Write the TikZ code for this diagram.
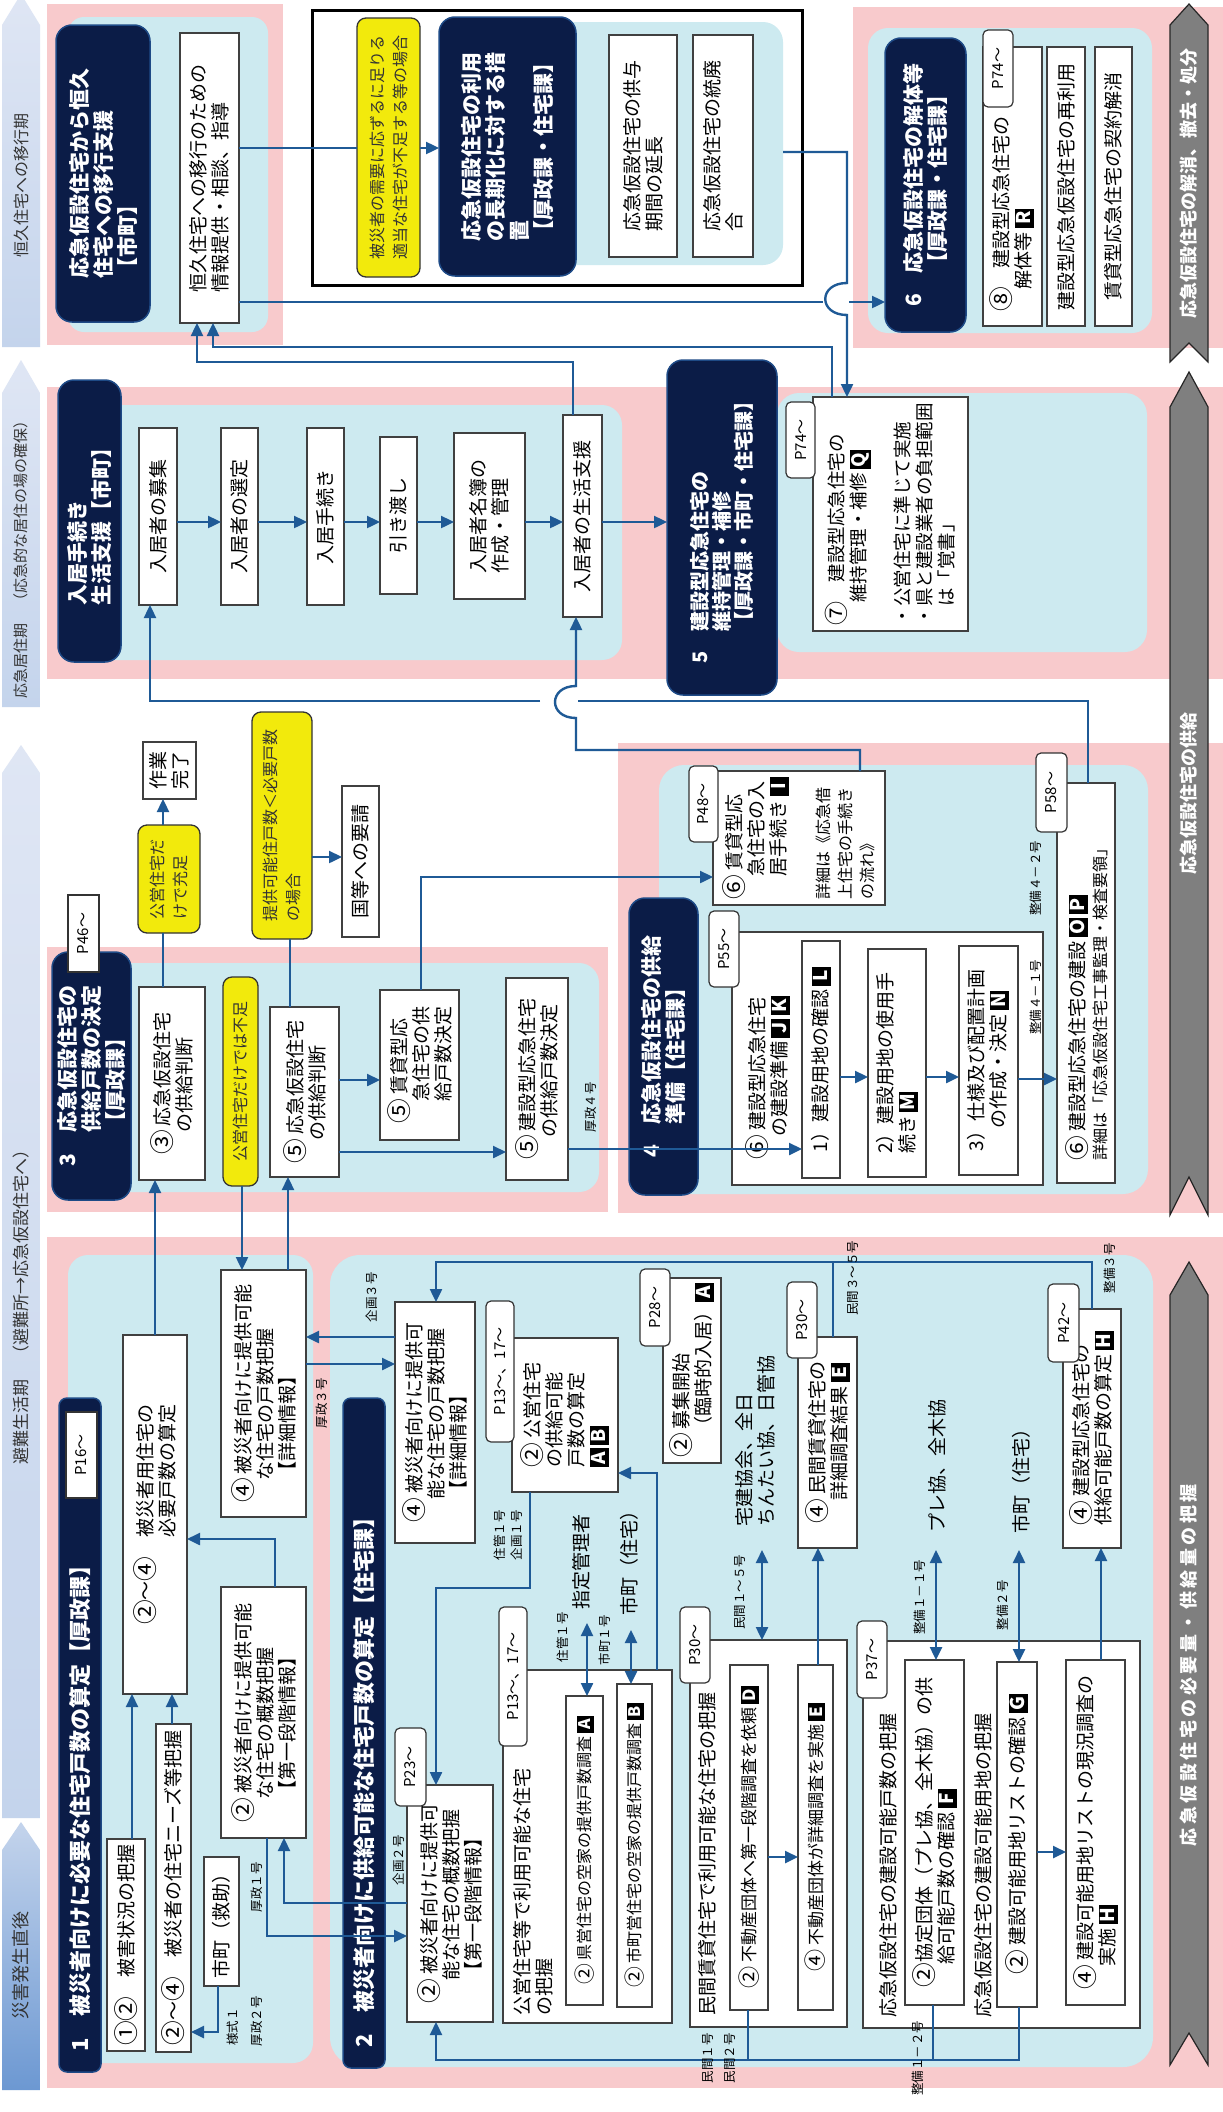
\documentclass[tikz,border=0pt]{standalone}
\usepackage{fontspec}
\setmainfont{Noto Sans CJK JP}
\usetikzlibrary{arrows.meta,fit}
\definecolor{pinkc}{HTML}{F8CACC}
\definecolor{lbc}{HTML}{CDEAF0}
\definecolor{navyc}{HTML}{0B1C47}
\definecolor{navyb}{HTML}{1E4A86}
\definecolor{cblue}{HTML}{1F5A96}
\definecolor{yelc}{HTML}{F2EA0C}
\definecolor{grayc}{HTML}{7F7F7F}
\definecolor{phA}{HTML}{C4D4EC}
\definecolor{phB}{HTML}{DFE6F4}
\definecolor{phC}{HTML}{6C98D2}
\newcommand\jfN{\fontsize{19}{22}\selectfont}
\newcommand\jfS{\fontsize{16}{20}\selectfont}
\newcommand\jfM{\fontsize{17}{21}\selectfont}
\newcommand\jfT{\fontsize{21}{24}\selectfont\bfseries}
\newcommand\jfH{\fontsize{22}{26}\selectfont\bfseries}
\newcommand\jfY{\fontsize{16}{23}\selectfont}
\newcommand\jfP{\fontsize{15}{18}\selectfont}
\newcommand\jfL{\fontsize{12.5}{15}\selectfont}
\newcommand\jfF{\fontsize{18}{22}\selectfont\bfseries}
\newcommand\jfA{\fontsize{16}{20}\selectfont}
\newcommand\jind{\hspace*{1.2em}}
\newcommand\ls{\kern3.5pt}
\newcommand\cn[1]{\raisebox{-0.1em}{\scalebox{1.3}{#1}}}
\newcommand\bdg[1]{{\setlength\fboxsep{1.5pt}\colorbox{black}{\makebox[0.85em]{\rule[-0.1em]{0pt}{0.85em}\color{white}\bfseries #1}}}}
\newcommand\BX[8][]{%
  \node[#2,fit={(#4,#5)(#6,#7)}] (#3) {};
  \node[#2txt,#1] (#3t) at (#3.center) {#8};}
\tikzset{
 wbox/.style={draw=black!75, line width=1.2pt, fill=white, inner sep=0pt, outer sep=0pt},
 wboxtxt/.style={rotate=90, align=left, inner sep=0pt, font=\jfN, text=black},
 dbox/.style={draw=navyb, line width=1.5pt, fill=navyc, rounded corners=16pt, inner sep=0pt, outer sep=0pt},
 dboxtxt/.style={rotate=90, align=left, inner sep=0pt, font=\jfT, text=white},
 ybox/.style={draw=black!80, line width=1.3pt, fill=yelc, rounded corners=9pt, inner sep=0pt, outer sep=0pt},
 yboxtxt/.style={rotate=90, align=left, inner sep=0pt, font=\jfY, text=black!80},
 tab/.style={draw=black!80, line width=1.2pt, fill=white, rounded corners=5pt, inner sep=0pt, outer sep=0pt},
 tabtxt/.style={rotate=90, inner sep=0pt, font=\jfP, text=black},
 tabsq/.style={draw=black!80, line width=1.2pt, fill=white, inner sep=0pt, outer sep=0pt},
 tabsqtxt/.style={rotate=90, inner sep=0pt, font=\jfP, text=black},
 lbpanel/.style={fill=lbc, rounded corners=20pt, inner sep=0pt, outer sep=0pt},
 lbl/.style={rotate=90, inner sep=0pt, font=\jfL, text=black},
 nlbl/.style={rotate=90, inner sep=0pt, font=\jfN, text=black, align=left},
 phl/.style={rotate=90, inner sep=0pt, font=\jfA, text=black!80},
 ftl/.style={rotate=90, inner sep=0pt, font=\jfF, text=white},
 conn/.style={draw=cblue, line width=2.4pt},
 arr/.style={conn, -{Triangle[length=13pt,width=12pt]}},
 darr/.style={conn, {Triangle[length=13pt,width=12pt]}-{Triangle[length=13pt,width=12pt]}},
}
\begin{document}
\begin{tikzpicture}[x=1pt,y=-1pt]
\useasboundingbox (0,0) rectangle (1223,2112);
\fill[white] (0,0) rectangle (1223,2112);
% ---------- pink regions
\fill[pinkc] (47,4) rectangle (283,345);
\fill[pinkc] (853,7) rectangle (1223,348);
\fill[pinkc] (47,387) rectangle (1223,679);
\fill[pinkc] (47,947) rectangle (608,1212);
\fill[pinkc] (618,743) rectangle (1223,1213);
\fill[pinkc] (47,1237) rectangle (1223,2088);
% ---------- light blue panels
\fill[lbc, rounded corners=16pt] (68,17) rectangle (268,332);
\fill[lbc, rounded corners=20pt] (868,28) rectangle (1152,333);
\fill[lbc, rounded corners=20pt] (70,405) rectangle (622,660);
\fill[lbc, rounded corners=22pt] (777,393) rectangle (1147,652);
\fill[lbc, rounded corners=20pt] (70,963) rectangle (599,1192);
\fill[lbc, rounded corners=25pt] (659,765) rectangle (1148,1194);
\fill[lbc, rounded corners=20pt] (68,1255) rectangle (313,2063);
\fill[lbc, rounded corners=30pt] (330,1255) rectangle (1153,2067);
% ---------- long-term frame
\draw[line width=3pt] (312,10) rectangle (802,285);
\node[lbpanel, fit={(445,22)(783,265)}] (ltp) {};
% ---------- phase arrows (left)
\shade[top color=phB, bottom color=phA] (2,347) -- (2,25) -- (21,-6) -- (40,25) -- (40,347) -- cycle;
\shade[top color=phB, bottom color=phA] (2,707) -- (2,393) -- (21,360) -- (40,393) -- (40,707) -- cycle;
\shade[top color=phB, bottom color=phA] (2,1818) -- (2,773) -- (21,745) -- (40,773) -- (40,1818) -- cycle;
\shade[top color=phA, bottom color=phC] (2,2090) -- (2,1850) -- (21,1822) -- (40,1850) -- (40,2090) -- cycle;
\node[phl] (ph1) at (21,185) {恒久住宅への移行期};
\node[phl, font=\fontsize{15}{18}\selectfont] (ph2) at (21,556) {応急居住期　（応急的な居住の場の確保）};
\node[phl, font=\fontsize{17}{20}\selectfont] (ph3) at (21,1303) {避難生活期　（避難所→応急仮設住宅へ）};
\node[phl, font=\fontsize{18}{20}\selectfont] (ph4) at (21,1965) {災害発生直後};
% ---------- footer arrows (right)
\filldraw[fill=grayc, draw=black!85, line width=1.2pt] (1170,362) -- (1170,25) -- (1189,4) -- (1208,25) -- (1208,362) -- (1189,343) -- cycle;
\filldraw[fill=grayc, draw=black!85, line width=1.2pt] (1170,1215) -- (1170,407) -- (1189,372) -- (1208,407) -- (1208,1215) -- (1189,1177) -- cycle;
\filldraw[fill=grayc, draw=black!85, line width=1.2pt] (1170,2065) -- (1170,1295) -- (1189,1262) -- (1208,1295) -- (1208,2065) -- (1189,2033) -- cycle;
\node[ftl] (ft1) at (1189,183) {応急仮設住宅の解消、撤去・処分};
\node[ftl] (ft2) at (1189,793) {応急仮設住宅の供給};
\node[ftl] (ft3) at (1189,1665) {応\ls 急\ls 仮\ls 設\ls 住\ls 宅\ls の\ls 必\ls 要\ls 量\ls ・\ls 供\ls 給\ls 量\ls の\ls 把\ls 握};
% ---------- dark title boxes
\BX{dbox}{dz}{56}{25}{150}{322}{応急仮設住宅から恒久\\住宅への移行支援\\【市町】}
\BX{dbox}{dl}{439}{17}{576}{276}{応急仮設住宅の利用\\の長期化に対する措\\置\\【厚政課・住宅課】}
\BX{dbox}{dsix}{885}{38}{966}{332}{6　応急仮設住宅の解体等\\\phantom{6　}【厚政課・住宅課】}
\BX{dbox}{dn}{58}{380}{121}{662}{入居手続き\\生活支援【市町】}
\BX[font=\fontsize{20}{22}\selectfont\bfseries]{dbox}{dfive}{667}{360}{777}{695}{5　建設型応急住宅の\\\phantom{5　}維持管理・補修\\\phantom{5　}【厚政課・市町・住宅課】}
\BX{dbox}{dthree}{52}{952}{131}{1200}{3　応急仮設住宅の\\\phantom{3　}供給戸数の決定\\\phantom{3　}【厚政課】}
\BX{dbox}{dfour}{629}{898}{698}{1195}{4　応急仮設住宅の供給\\\phantom{4　}準備【住宅課】}
\node[dbox, rounded corners=8pt, fit={(59,1398)(101,2072)}] (done) {};
\node[dboxtxt, font=\jfH, anchor=west] (donet) at (80,2052) {1　被災者向けに必要な住宅戸数の算定【厚政課】};
\node[dbox, rounded corners=8pt, fit={(343,1398)(385,2068)}] (dtwo) {};
\node[dboxtxt, font=\jfH, anchor=west] (dtwot) at (364,2048) {2　被災者向けに供給可能な住宅戸数の算定【住宅課】};
% ---------- top row boxes
\BX{wbox}{kk}{180}{33}{239}{323}{恒久住宅への移行のための\\情報提供・相談、指導}
\BX{ybox}{ylong}{357}{18}{420}{277}{被災者の需要に応ずるに足りる\\適当な住宅が不足する等の場合}
\BX{wbox}{entyo}{609}{35}{677}{257}{応急仮設住宅の供与\\期間の延長}
\BX{wbox}{tohai}{693}{35}{753}{257}{応急仮設住宅の統廃\\合}
\node[wbox, fit={(983,47)(1042,326)}] (kaitai) {};
\node[wboxtxt] (kaitait) at (1012,214) {\cn{⑧}　建設型応急住宅の\\\jind 解体等\ \bdg{R}};
\BX{wbox}{sairiyo}{1047}{47}{1085}{326}{建設型応急仮設住宅の再利用}
\BX{wbox}{keiyaku}{1095}{47}{1132}{326}{賃貸型応急住宅の契約解消}
% ---------- nyukyo row
\BX{wbox}{nbA}{139}{428}{177}{605}{入居者の募集}
\BX{wbox}{nbB}{221}{428}{258}{605}{入居者の選定}
\BX{wbox}{nbC}{307}{428}{344}{605}{入居手続き}
\BX{wbox}{nbD}{380}{437}{417}{594}{引き渡し}
\BX{wbox}{nbE}{454}{433}{525}{599}{入居者名簿の\\作成・管理}
\BX{wbox}{nbF}{563}{415}{602}{617}{入居者の生活支援}
\BX[font=\fontsize{18.5}{22}\selectfont]{wbox}{wseven}{813}{397}{968}{631}{\cn{⑦}　建設型応急住宅の\\\jind 維持管理・補修\ \bdg{Q}\\[22pt]・公営住宅に準じて実施\\・県と建設業者の負担範囲\\\phantom{・}は「覚書」}
% ---------- section 3
\BX{wbox}{wthree}{139}{987}{205}{1180}{\cn{③} 応急仮設住宅\\\jind の供給判断}
\BX{ybox}{yfusoku}{223}{977}{258}{1186}{公営住宅だけでは不足}
\BX{wbox}{wfa}{270}{1007}{339}{1177}{\cn{⑤} 応急仮設住宅\\\jind の供給判断}
\BX{wbox}{wfb}{380}{990}{459}{1140}{\cn{⑤} 賃貸型応\\\jind 急住宅の供\\\jind 給戸数決定}
\BX{wbox}{wfc}{506}{978}{568}{1180}{\cn{⑤} 建設型応急住宅\\\jind の供給戸数決定}
\BX{ybox}{yjusoku}{138}{825}{200}{933}{公営住宅だ\\けで充足}
\BX{wbox}{wsagyo}{143}{742}{196}{799}{作業\\完了}
\BX{ybox}{yteikyo}{252}{712}{312}{939}{提供可能住戸数＜必要戸数\\の場合}
\BX{wbox}{wkuni}{342}{786}{379}{937}{国等への要請}
% ---------- section 4
\BX{wbox}{wsa}{713}{771}{885}{905}{\cn{⑥} 賃貸型応\\\jind 急住宅の入\\\jind 居手続き\ \bdg{I}\\[22pt]{\jfS 詳細は《応急借}\\{\jfS 上住宅の手続き}\\{\jfS の流れ》}}
\node[wbox, fit={(732,932)(1043,1185)}] (wsb) {};
\node[wboxtxt] (wsbt) at (768,1078) {\cn{⑥} 建設型応急住宅\\\jind の建設準備\ \bdg{J}\,\bdg{K}};
\BX{wbox}{lone}{802}{941}{840}{1178}{1）建設用地の確認\ \bdg{L}}
\BX{wbox}{ltwo}{868}{949}{926}{1177}{2）建設用地の使用手\\続き\ \bdg{M}}
\BX{wbox}{lthree}{959}{946}{1018}{1175}{3）仕様及び配置計画\\\jind の作成・決定\ \bdg{N}}
\node[wbox, fit={(1057,783)(1115,1183)}] (wsc) {};
\node[wboxtxt] (wsct) at (1087,1000) {\cn{⑥} 建設型応急住宅の建設\ \bdg{O}\,\bdg{P}\\{\jfS 詳細は「応急仮設住宅工事監理・検査要領」}};
% ---------- section 1
\BX[align=right]{wbox}{hitsuyo}{123}{1335}{187}{1694}{\cn{②}～\cn{④}　被災者用住宅の\\必要戸数の算定}
\BX{wbox}{higai}{107}{1839}{145}{2051}{\cn{①}\cn{②}　被害状況の把握}
\BX{wbox}{needs}{156}{1724}{191}{2052}{\cn{②}～\cn{④}　被災者の住宅ニーズ等把握}
\BX{wbox}{kyujo}{204}{1857}{239}{1986}{市町（救助）}
\BX{wbox}{gaisuA}{221}{1587}{306}{1838}{\cn{②} 被災者向けに提供可能\\\jind な住宅の概数把握\\\jind 【第一段階情報】}
\BX{wbox}{shosaiA}{221}{1270}{306}{1517}{\cn{④} 被災者向けに提供可能\\\jind な住宅の戸数把握\\\jind 【詳細情報】}
% ---------- section 2
\BX{wbox}{shosaiB}{395}{1302}{475}{1543}{\cn{④} 被災者向けに提供可\\\jind 能な住宅の戸数把握\\\jind 【詳細情報】}
\BX{wbox}{gaisuB}{407}{1785}{493}{2022}{\cn{②} 被災者向けに提供可\\\jind 能な住宅の概数把握\\\jind 【第一段階情報】}
\BX{wbox}{koei}{512}{1338}{618}{1492}{\cn{②} 公営住宅\\の供給可能\\戸数の算定\\\bdg{A}\,\bdg{B}}
\BX{wbox}{boshu}{663}{1278}{721}{1463}{\cn{②} 募集開始\\\jind （臨時的入居）\bdg{A}}
\BX{wbox}{minsho}{798}{1337}{857}{1548}{\cn{④} 民間賃貸住宅の\\\jind 詳細調査結果\ \bdg{E}}
\node[wbox, fit={(503,1670)(672,2023)}] (koeiout) {};
\node[wboxtxt, anchor=north west] (koeioutt) at (513,2016) {公営住宅等で利用可能な住宅\\の把握};
\BX[font=\jfS]{wbox}{kenei}{566}{1696}{603}{2005}{\cn{②} 県営住宅の空家の提供戸数調査\ \bdg{A}}
\BX[font=\jfS]{wbox}{shichoei}{617}{1684}{652}{2007}{\cn{②} 市町営住宅の空家の提供戸数調査\ \bdg{B}}
\node[wbox, fit={(690,1640)(847,2027)}] (minout) {};
\node[wboxtxt, anchor=north west] (minoutt) at (698,2016) {民間賃貸住宅で利用可能な住宅の把握};
\BX[font=\jfM]{wbox}{irai}{730}{1665}{768}{2010}{\cn{②} 不動産団体へ第一段階調査を依頼\ \bdg{D}}
\BX[font=\jfM]{wbox}{jisshi}{798}{1665}{833}{2010}{\cn{④} 不動産団体が詳細調査を実施\ \bdg{E}}
\node[wbox, fit={(863,1641)(1140,2028)}] (kenout) {};
\node[wboxtxt, anchor=north west] (kenoutA) at (879,2018) {応急仮設住宅の建設可能戸数の把握};
\node[wboxtxt, anchor=north west] (kenoutB) at (974,2018) {応急仮設住宅の建設可能用地の把握};
\BX{wbox}{wf}{905}{1660}{964}{2005}{\cn{②}協定団体（プレ協、全木協）の供\\\jind 給可能戸数の確認\ \bdg{F}}
\BX{wbox}{wg}{997}{1662}{1037}{2007}{\cn{②} 建設可能用地リストの確認\ \bdg{G}}
\BX{wbox}{wh}{1066}{1660}{1125}{2005}{\cn{④} 建設可能用地リストの現況調査の\\\jind 実施\ \bdg{H}}
\BX{wbox}{kenkyo}{1063}{1309}{1121}{1548}{\cn{④} 建設型応急住宅の\\供給可能戸数の算定\ \bdg{H}}
% ---------- connectors: top
\draw[conn] (kk.east |- 0,148) -- (ylong.west |- 0,148);
\draw[arr] (ylong.east |- 0,148) -- (dl.west |- 0,148);
\coordinate (jA) at (823,302);
\coordinate (jB) at (849,302);
\draw[conn] (kk.east |- 0,302) -- (jA);
\draw[arr] (jB) -- (dsix.west |- 0,302);
\draw[arr] (ltp.east |- 0,152) -- (847,152) -- (847,283) .. controls (818,283) and (818,315) .. (847,315) -- (wseven.north -| 847,0);
\draw[arr] (nbF.north -| 573,0) -- (573,362) -- (197,362) -- (kk.south -| 197,0);
\draw[arr] (wseven.north -| 832,0) -- (832,347) -- (213,347) -- (kk.south -| 213,0);
\draw[arr] (nbA.east |- 0,522) -- (nbB.west |- 0,522);
\draw[arr] (nbB.east |- 0,522) -- (nbC.west |- 0,522);
\draw[arr] (nbC.east |- 0,522) -- (nbD.west |- 0,522);
\draw[arr] (nbD.east |- 0,522) -- (nbE.west |- 0,522);
\draw[arr] (nbE.east |- 0,522) -- (nbF.west |- 0,522);
\draw[arr] (nbF.east |- 0,522) -- (dfive.west |- 0,522);
\draw[arr] (wsa.north -| 860,0) -- (860,750) -- (576,750) -- (576,718) .. controls (548,718) and (548,686) .. (576,686) -- (nbF.south -| 576,0);
\coordinate (jC) at (578,701);
\coordinate (jD) at (540,701);
\draw[conn] (wsc.north -| 1088,0) -- (1088,701) -- (jC);
\draw[arr] (jD) -- (150,701) -- (nbA.south -| 150,0);
% ---------- connectors: section 3 / 4
\draw[conn] (wthree.north -| 163,0) -- (yjusoku.south -| 163,0);
\draw[arr] (yjusoku.north -| 163,0) -- (wsagyo.south -| 163,0);
\draw[conn] (wfa.north -| 290,0) -- (yteikyo.south -| 290,0);
\draw[arr] (yteikyo.east |- 0,857) -- (wkuni.west |- 0,857);
\draw[arr] (wfa.east |- 0,1080) -- (wfb.west |- 0,1080);
\draw[arr] (wfa.east |- 0,1152) -- (wfc.west |- 0,1152);
\draw[arr] (wfc.east |- 0,1149) -- (lone.west |- 0,1149);
\draw[arr] (wfb.north -| 421,0) -- (421,877) -- (wsa.west |- 0,877);
\draw[arr] (lone.east |- 0,1077) -- (ltwo.west |- 0,1077);
\draw[arr] (ltwo.east |- 0,1077) -- (lthree.west |- 0,1077);
\draw[arr] (lthree.east |- 0,1079) -- (wsc.west |- 0,1079);
% ---------- connectors: sections 1 / 2
\draw[arr] (hitsuyo.north -| 155,0) -- (wthree.south -| 155,0);
\draw[arr] (yfusoku.south -| 242,0) -- (shosaiA.north -| 242,0);
\draw[arr] (shosaiA.north -| 288,0) -- (wfa.south -| 288,0);
\draw[arr] (shosaiB.west |- 0,1337) -- (shosaiA.east |- 0,1337);
\draw[arr] (shosaiA.east |- 0,1364) -- (shosaiB.west |- 0,1364);
\draw[arr] (higai.north -| 132,0) -- (hitsuyo.south -| 132,0);
\draw[arr] (needs.north -| 172,0) -- (hitsuyo.south -| 172,0);
\draw[arr] (kyujo.south -| 218,0) -- (218,2032) -- (needs.east |- 0,2032);
\draw[arr] (gaisuA.north -| 275,0) -- (275,1539) -- (hitsuyo.east |- 0,1539);
\draw[arr] (gaisuA.south -| 267,0) -- (267,1936) -- (gaisuB.west |- 0,1936);
\draw[arr] (gaisuB.west |- 0,1903) -- (284,1903) -- (gaisuA.south -| 284,0);
\draw[arr] (koei.south -| 530,0) -- (530,1588) -- (436,1588) -- (gaisuB.north -| 436,0);
\draw[arr] (koeiout.north -| 657,0) -- (657,1473) -- (koei.east |- 0,1473);
\draw[darr] (kenei.north -| 587,0) -- (587,1623);
\draw[darr] (shichoei.north -| 631,0) -- (631,1630);
\draw[darr] (minout.north -| 762,0) -- (762,1550);
\draw[arr] (irai.east |- 0,1857) -- (jisshi.west |- 0,1857);
\draw[arr] (jisshi.north -| 818,0) -- (minsho.south -| 818,0);
\draw[arr] (kenkyo.north -| 1092,0) -- (1092,1262) -- (436,1262) -- (shosaiB.north -| 436,0);
\draw[conn] (minsho.north -| 833,0) -- (833,1262);
\draw[darr] (wf.north -| 936,0) -- (936,1550);
\draw[darr] (wg.north -| 1019,0) -- (1019,1550);
\draw[arr] (wh.north -| 1101,0) -- (kenkyo.south -| 1101,0);
\draw[arr] (wg.east |- 0,1852) -- (wh.west |- 0,1852);
\draw[arr] (wf.south -| 933,0) -- (933,2060) -- (436,2060) -- (gaisuB.south -| 436,0);
\draw[conn] (wg.south -| 1019,0) -- (1019,2060) -- (933,2060);
\draw[conn] (irai.south -| 748,0) -- (748,2060);
% ---------- page tabs
\BX{tab}{tA}{983}{30}{1013}{107}{P74～}
\BX{tab}{tB}{786}{402}{815}{478}{P74～}
\BX{tabsq}{tC}{68}{895}{99}{972}{P46～}
\BX{tab}{tD}{689}{766}{718}{842}{P48～}
\BX{tab}{tE}{709}{911}{739}{987}{P55～}
\BX{tab}{tF}{1036}{753}{1067}{832}{P58～}
\BX{tabsq}{tG}{66}{1412}{97}{1498}{P16～}
\BX{tab}{tH}{395}{1728}{426}{1806}{P23～}
\BX{tab}{tI}{486}{1301}{514}{1442}{P13～、17～}
\BX{tab}{tJ}{499}{1607}{527}{1746}{P13～、17～}
\BX{tab}{tK}{640}{1269}{670}{1346}{P28～}
\BX{tab}{tL}{787}{1282}{817}{1358}{P30～}
\BX{tab}{tM}{680}{1607}{710}{1683}{P30～}
\BX{tab}{tN}{857}{1621}{887}{1698}{P37～}
\BX{tab}{tO}{1048}{1284}{1079}{1362}{P42～}
% ---------- small labels
\node[lbl] (la) at (372,1297) {企画３号};
\node[lbl] (lb) at (322,1403) {厚政３号};
\node[lbl] (lc) at (257,1887) {厚政１号};
\node[lbl] (ld) at (399,1860) {企画２号};
\node[lbl] (le) at (233,2027) {様式１};
\node[lbl] (lf) at (257,2021) {厚政２号};
\node[lbl] (lg) at (500,1535) {住管１号};
\node[lbl] (lh) at (517,1535) {企画１号};
\node[lbl] (li) at (563,1637) {住管１号};
\node[lbl] (lj) at (605,1640) {市町１号};
\node[lbl] (lk) at (740,1592) {民間１～５号};
\node[lbl] (ll) at (853,1278) {民間３～５号};
\node[lbl] (lm) at (1110,1268) {整備３号};
\node[lbl] (ln) at (920,1597) {整備１－１号};
\node[lbl] (lo) at (1003,1605) {整備２号};
\node[lbl] (lp) at (708,2058) {民間１号};
\node[lbl] (lq) at (730,2058) {民間２号};
\node[lbl] (lr) at (918,2058) {整備１－２号};
\node[lbl] (ls) at (591,1107) {厚政４号};
\node[lbl] (lt) at (1036,997) {整備４－１号};
\node[lbl] (lu) at (1036,878) {整備４－２号};
% ---------- normal labels
\node[nlbl] (na) at (581,1562) {指定管理者};
\node[nlbl] (nb) at (629,1558) {市町（住宅）};
\node[nlbl, anchor=north west] (nc) at (735,1527) {宅建協会、全日\\ちんたい協、日管協};
\node[nlbl] (nd) at (937,1466) {プレ協、全木協};
\node[nlbl] (ne) at (1021,1476) {市町（住宅）};
\end{tikzpicture}
\end{document}
